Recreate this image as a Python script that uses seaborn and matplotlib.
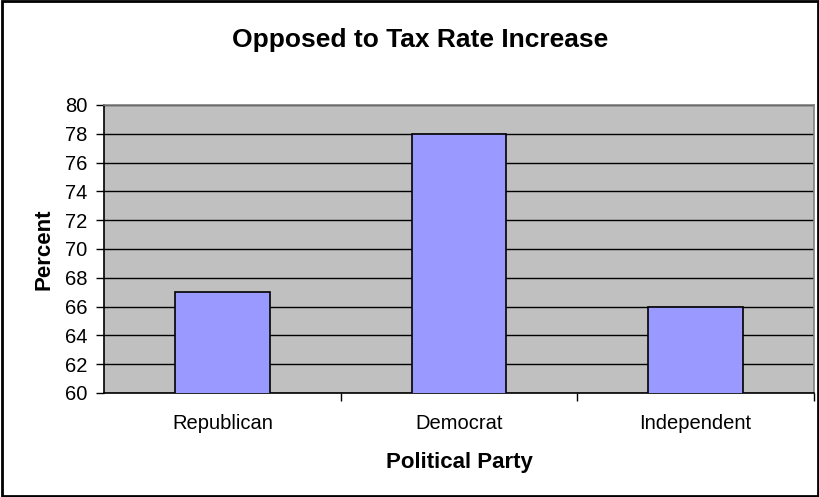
import matplotlib
matplotlib.use("Agg")
import matplotlib.pyplot as plt
import seaborn as sns
import pandas as pd
from matplotlib.patches import Rectangle
from matplotlib.ticker import FixedLocator

categories = ["Republican", "Democrat", "Independent"]
percent = [67, 78, 66]
yticks = [60, 62, 64, 66, 68, 70, 72, 74, 76, 78, 80]

sns.set_theme(style="white")
plt.rcParams["font.family"] = ["Liberation Sans", "DejaVu Sans"]
plt.rcParams.update({"text.color": "black", "axes.labelcolor": "black",
                     "xtick.color": "black", "ytick.color": "black"})

df = pd.DataFrame({"Political Party": categories, "Percent": percent})

fig = plt.figure(figsize=(8.2, 4.97), dpi=100)
ax = fig.add_axes([104 / 820, 1 - 393 / 497, (814 - 104) / 820, (393 - 105) / 497])
ax.set_facecolor("#C0C0C0")

sns.barplot(data=df, x="Political Party", y="Percent", color="#9999FF",
            saturation=1, width=0.4, edgecolor="black", linewidth=1.2, ax=ax, zorder=3)

ax.set_ylim(60, 80)
ax.set_xlim(-0.5, 2.5)
ax.set_yticks(yticks)
ax.set_yticklabels([str(v) for v in yticks], fontsize=14.5)
ax.yaxis.grid(True, color="black", linewidth=1.0, zorder=0)
ax.set_axisbelow(True)
ax.tick_params(axis="y", direction="out", length=6, width=1, color="black",
               labelcolor="black", pad=6, left=True)
ax.tick_params(axis="x", which="major", length=0, pad=15, labelsize=14.5, labelcolor="black")
ax.xaxis.set_minor_locator(FixedLocator([0.5, 1.5, 2.5]))
ax.tick_params(axis="x", which="minor", direction="out", length=6, width=1, color="black", bottom=True)

for s in ["left", "bottom"]:
    ax.spines[s].set_color("black")
    ax.spines[s].set_linewidth(1.2)
for s in ["top", "right"]:
    ax.spines[s].set_color("#808080")
    ax.spines[s].set_linewidth(1.2)

ax.set_xlabel("Political Party", fontsize=16, fontweight="bold", labelpad=14, color="black")
ax.set_ylabel("Percent", fontsize=16, fontweight="bold", labelpad=7.5, color="black")
fig.text(420 / 820, 1 - 40 / 497, "Opposed to Tax Rate Increase", ha="center", va="center",
         fontsize=19, fontweight="bold", color="black")

fig.patches.append(Rectangle((0.002, 0.003), 0.995, 0.994, transform=fig.transFigure,
                             fill=False, edgecolor="black", linewidth=2))

fig.savefig("out.png", dpi=100)
